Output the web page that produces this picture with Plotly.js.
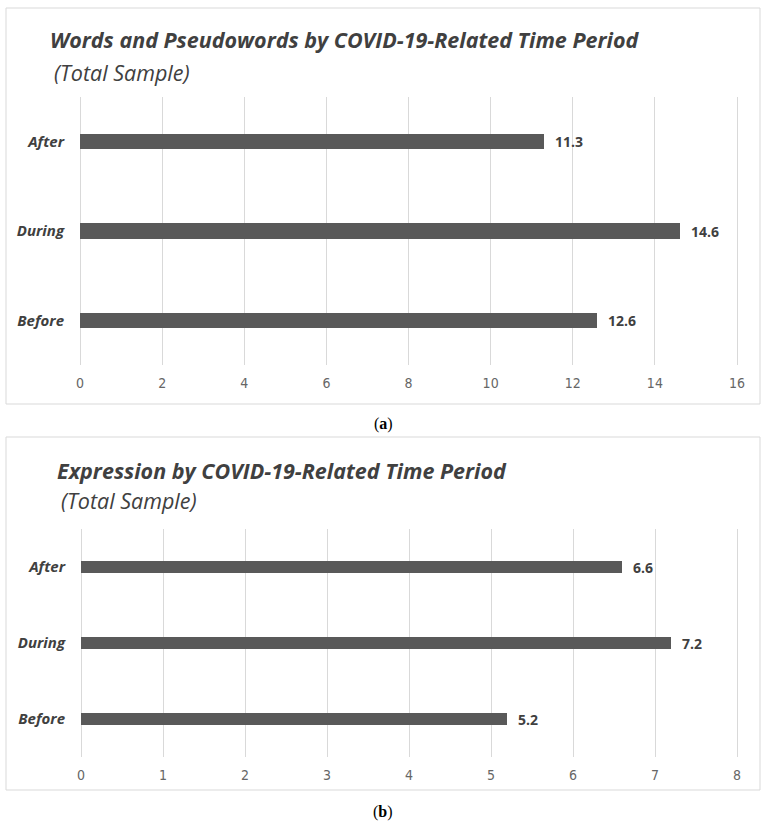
<!DOCTYPE html>
<html>
<head>
<meta charset="utf-8">
<script src="https://cdn.plot.ly/plotly-3.0.1.min.js"></script>
<style>
  html, body { margin: 0; padding: 0; background: #ffffff; }
  #chart { width: 766px; height: 825px; }
</style>
</head>
<body>
<div id="chart"></div>
<script>
// Time periods, drawn bottom to top
const periods = ["Before", "During", "After"];

// (a) Words and Pseudowords, total sample
const wordsValues = [12.6, 14.6, 11.3];
const wordsTicks = [0, 2, 4, 6, 8, 10, 12, 14, 16];

// (b) Expression, total sample
const expressionValues = [5.2, 7.2, 6.6];
const expressionTicks = [0, 1, 2, 3, 4, 5, 6, 7, 8];

const W = 766, H = 825;
const px = x => x / W;           // pixel -> paper x
const py = y => 1 - y / H;       // pixel -> paper y

const barColor = "#595959";
const textColor = "#404040";
const gridColor = "#d9d9d9";
const titleFont = "Open Sans, Noto Sans, sans-serif";
const tickFont = "Liberation Sans Narrow, DejaVu Sans Condensed, Liberation Sans, sans-serif";
const serifFont = "Liberation Serif, DejaVu Serif, serif";

function bars(values, xa, ya, width) {
  return {
    type: "bar",
    orientation: "h",
    x: values,
    y: periods,
    xaxis: xa,
    yaxis: ya,
    width: width,
    marker: { color: barColor, line: { width: 0 } },
    hoverinfo: "skip",
    showlegend: false
  };
}

function valueLabels(values, xref, yref) {
  return values.map((v, i) => ({
    x: v,
    y: periods[i],
    xref: xref,
    yref: yref,
    text: "<b>" + v.toFixed(1) + "</b>",
    showarrow: false,
    xanchor: "left",
    yanchor: "middle",
    xshift: 9,
    font: { family: titleFont, size: 14, color: textColor }
  }));
}

// The end gridlines sit right on the plot edges; widen the axis by a few
// pixels on each side so Plotly keeps them, without moving any tick.
function xAxis(ticks, left, right, anchor) {
  const edge = 3;
  const lo = ticks[0], hi = ticks[ticks.length - 1];
  const perPx = (hi - lo) / (right - left);
  return {
    domain: [px(left - edge), px(right + edge)],
    anchor: anchor,
    range: [lo - edge * perPx, hi + edge * perPx],
    tickvals: ticks,
    ticktext: ticks.map(String),
    showgrid: true,
    gridcolor: gridColor,
    gridwidth: 1,
    zeroline: false,
    showline: false,
    ticks: "",
    ticklabelstandoff: 8,
    tickfont: { family: tickFont, size: 14, color: "#666666" },
    fixedrange: true
  };
}

function yAxis(top, bottom, anchor) {
  return {
    domain: [py(bottom), py(top)],
    anchor: anchor,
    type: "category",
    categoryorder: "array",
    categoryarray: periods,
    range: [-0.5, 2.5],
    showgrid: false,
    zeroline: false,
    showline: false,
    ticks: "",
    ticklabelstandoff: 12,
    tickfont: { family: titleFont, size: 15, color: textColor, weight: "bold", style: "italic" },
    fixedrange: true
  };
}

function txt(text, x, y, size, opts) {
  return Object.assign({
    text: text,
    xref: "paper",
    yref: "paper",
    x: px(x),
    y: py(y),
    xanchor: "left",
    yanchor: "middle",
    showarrow: false,
    font: { family: titleFont, size: size, color: textColor }
  }, opts || {});
}

function frame(x0, y0, x1, y1) {
  return {
    type: "rect",
    xref: "paper",
    yref: "paper",
    x0: px(x0), x1: px(x1),
    y0: py(y1), y1: py(y0),
    line: { color: gridColor, width: 1 },
    fillcolor: "rgba(0,0,0,0)",
    layer: "below"
  };
}

const data = [
  bars(wordsValues, "x", "y", 0.17),
  bars(expressionValues, "x2", "y2", 0.165)
];

const annotations = [
  txt("<b><i>Words and Pseudowords by COVID-19-Related Time Period</i></b>", 48, 40, 21.5),
  txt("<i>(Total Sample)</i>", 52, 72, 21.5),
  txt("<b><i>Expression by COVID-19-Related Time Period</i></b>", 55, 470, 21.5),
  txt("<i>(Total Sample)</i>", 59, 500, 21.5),
  txt("(<b>a</b>)", 383, 424, 16, {
    xanchor: "center",
    font: { family: serifFont, size: 16, color: "#000000" }
  }),
  txt("(<b>b</b>)", 383, 812, 16, {
    xanchor: "center",
    font: { family: serifFont, size: 16, color: "#000000" }
  })
].concat(valueLabels(wordsValues, "x", "y"))
 .concat(valueLabels(expressionValues, "x2", "y2"));

const layout = {
  width: W,
  height: H,
  margin: { l: 0, r: 0, t: 0, b: 0 },
  paper_bgcolor: "#ffffff",
  plot_bgcolor: "rgba(0,0,0,0)",
  showlegend: false,
  bargap: 0,
  xaxis: xAxis(wordsTicks, 80, 737, "y"),
  yaxis: yAxis(97, 365, "x"),
  xaxis2: xAxis(expressionTicks, 81, 737, "y2"),
  yaxis2: yAxis(529, 757, "x2"),
  shapes: [frame(6, 8, 760, 404), frame(6, 437, 760, 790)],
  annotations: annotations
};

Plotly.newPlot("chart", data, layout, { displayModeBar: false, staticPlot: true });
</script>
</body>
</html>
